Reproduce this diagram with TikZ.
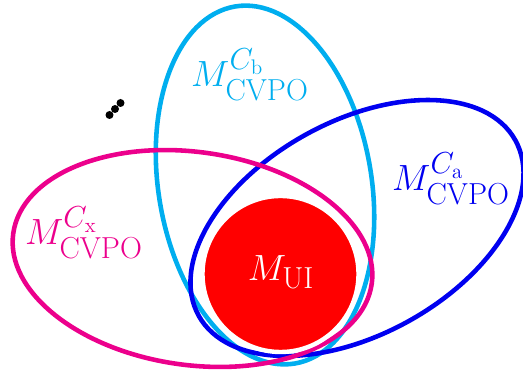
\documentclass[tikz,border=0pt]{standalone}
\usepackage{amsmath}
\usepackage{tikz}
\usetikzlibrary{positioning}
\definecolor{CvpoCyan}{HTML}{00AEEF}
\definecolor{CvpoBlue}{HTML}{0000F0}
\definecolor{CvpoMagenta}{HTML}{EC008C}
\DeclareMathSizes{22}{22}{16}{12}
\tikzset{
  setline/.style={line width=2.6pt},
  setlabel/.style={font=\fontsize{22}{26}\selectfont, inner sep=0pt}
}

\begin{document}
\begin{tikzpicture}
      \useasboundingbox (0,0) rectangle (10.46,7.46);
      %% Model sets of the three classes
      \draw[setline, CvpoCyan] (5.3,3.76) ellipse[x radius=2.13, y radius=3.62, rotate=9.5];
      \draw[setline, CvpoBlue] (7.14,2.9) ellipse[x radius=3.62, y radius=2.13, rotate=29];
      \draw[setline, CvpoMagenta] (3.85,2.29) ellipse[x radius=3.62, y radius=2.13, rotate=-8];
      %% Intersection model
      \fill[red, draw=white, line width=2.5pt] (5.61,1.98) circle (1.56);
      \node[setlabel, white] (ui) at (5.62,2.02) {$M_{\mathrm{UI}}$};
      %% Labels
      \node[setlabel, CvpoCyan] (cb) at (5.0,5.96) {$M^{C_\mathrm{b}}_{\mathrm{CVPO}}$};
      \node[setlabel, CvpoBlue] (ca) at (9.02,3.88) {$M^{C_\mathrm{a}}_{\mathrm{CVPO}}$};
      \node[setlabel, CvpoMagenta] (cx) at (1.68,2.8) {$M^{C_\mathrm{x}}_{\mathrm{CVPO}}$};
      %% More classes
      \foreach \i in {0,1,2}
        \fill (2.19+0.11*\i,5.16+0.12*\i) circle (0.08);
\end{tikzpicture}
\end{document}
